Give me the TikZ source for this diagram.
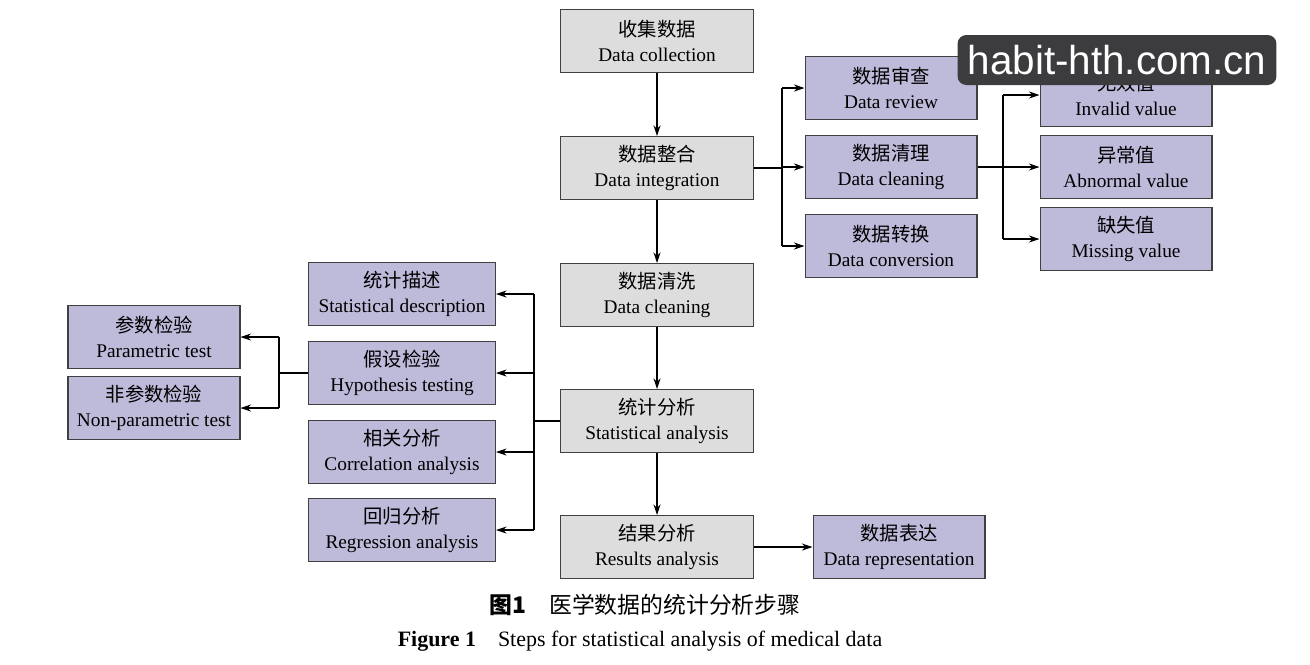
\documentclass[tikz,border=0pt]{standalone}
\usepackage{fontspec}
\setmainfont{Liberation Serif}
\newfontfamily\cjk{Noto Sans CJK SC}
\usetikzlibrary{arrows.meta}
\definecolor{boxgray}{RGB}{221,221,221}
\definecolor{boxpurple}{RGB}{190,186,218}
\definecolor{markgray}{RGB}{60,60,62}
\newcommand{\twoline}[2]{{\cjk #1}\\#2}
\begin{document}
\begin{tikzpicture}[x=0.02cm,y=-0.02cm,
    stage/.style={draw=black!75,line width=0.6pt,fill=boxgray,align=center,
      minimum width=3.86cm,minimum height=1.26cm,inner sep=1pt,
      font=\fontsize{11}{14}\selectfont},
    sub/.style={stage,fill=boxpurple,minimum width=3.44cm},
    side/.style={stage,fill=boxpurple,minimum width=3.74cm},
    link/.style={line width=0.6pt,-{Stealth[length=6pt,width=4pt]}},
    line/.style={line width=0.6pt}]
  \useasboundingbox (0,0) rectangle (1310,664);
  % main column
  \node[stage] (col) at (657,41) {\twoline{收集数据}{Data collection}};
  \node[stage] (integ) at (657,168) {\twoline{数据整合}{Data integration}};
  \node[stage] (clean) at (657,295) {\twoline{数据清洗}{Data cleaning}};
  \node[stage] (stat) at (657,421) {\twoline{统计分析}{Statistical analysis}};
  \node[stage] (res) at (657,547) {\twoline{结果分析}{Results analysis}};
  % integration branch
  \node[sub] (review) at (891,88) {\twoline{数据审查}{Data review}};
  \node[sub] (tidy) at (891,167) {\twoline{数据清理}{Data cleaning}};
  \node[sub] (conv) at (891,246) {\twoline{数据转换}{Data conversion}};
  \node[sub] (inval) at (1126,95) {\twoline{无效值}{Invalid value}};
  \node[sub] (abn) at (1126,167) {\twoline{异常值}{Abnormal value}};
  \node[sub] (miss) at (1126,239) {\twoline{缺失值}{Missing value}};
  \node[sub] (repr) at (899,547) {\twoline{数据表达}{Data representation}};
  % analysis branch
  \node[side] (desc) at (402,294) {\twoline{统计描述}{Statistical description}};
  \node[side] (hypo) at (402,373) {\twoline{假设检验}{Hypothesis testing}};
  \node[side] (corr) at (402,452) {\twoline{相关分析}{Correlation analysis}};
  \node[side] (regr) at (402,530) {\twoline{回归分析}{Regression analysis}};
  \node[sub] (param) at (154,337) {\twoline{参数检验}{Parametric test}};
  \node[sub] (nonp) at (154,408) {\twoline{非参数检验}{Non-parametric test}};
  % connectors
  \foreach \a/\b in {col/integ,integ/clean,clean/stat,stat/res}
    \draw[link] (\a) -- (\b);
  \draw[link] (res) -- (repr);
  \coordinate (j1) at (782,168);
  \draw[line] (integ.east) -- (j1);
  \foreach \t in {review,tidy,conv}
    \draw[link] (j1 |- \t) -- (\t.west);
  \draw[line] (j1 |- review) -- (j1 |- conv);
  \coordinate (j2) at (1003,167);
  \draw[line] (tidy.east) -- (j2);
  \foreach \t in {inval,abn,miss}
    \draw[link] (j2 |- \t) -- (\t.west);
  \draw[line] (j2 |- inval) -- (j2 |- miss);
  \coordinate (j3) at (534,421);
  \draw[line] (stat.west) -- (j3);
  \foreach \t in {desc,hypo,corr,regr}
    \draw[link] (j3 |- \t) -- (\t.east);
  \draw[line] (j3 |- desc) -- (j3 |- regr);
  \coordinate (j4) at (279,373);
  \draw[line] (hypo.west) -- (j4);
  \foreach \t in {param,nonp}
    \draw[link] (j4 |- \t) -- (\t.east);
  \draw[line] (j4 |- param) -- (j4 |- nonp);
  % captions
  \node (capcn) at (645,605) {\fontsize{13}{15}\selectfont\cjk\textbf{图1}\quad 医学数据的统计分析步骤};
  \node (capen) at (640,641) {\fontsize{12.5}{15}\selectfont\textbf{Figure 1}\quad Steps for statistical analysis of medical data};
  % watermark
  \node[fill=markgray,rounded corners=5pt,text=white,minimum width=6.38cm,
    minimum height=1cm,font=\fontsize{23}{26}\selectfont\sffamily] (mark) at (1117,60)
    {\fontspec{Liberation Sans}habit-hth.com.cn};
\end{tikzpicture}
\end{document}
